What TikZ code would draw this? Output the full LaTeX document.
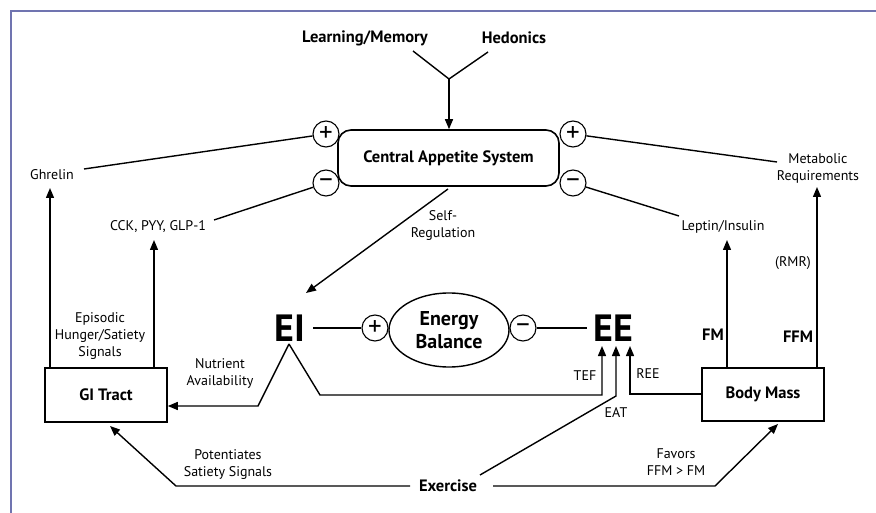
\documentclass[tikz,border=0pt]{standalone}
\usepackage{fontspec}
\setmainfont{PT Sans}
\usetikzlibrary{arrows.meta,shapes.geometric}
\definecolor{framecol}{RGB}{112,116,176}
\begin{document}
\begin{tikzpicture}[x=1pt,y=-1pt,
  line width=1.4pt,
  lbl/.style={font=\fontsize{14}{17}\selectfont, align=center, inner sep=0},
  blbl/.style={font=\bfseries\fontsize{16.5}{19}\selectfont, align=center, inner sep=0},
  big/.style={font=\bfseries\fontsize{38}{38}\selectfont, inner sep=0},
  sgn/.style={circle, draw, line width=1.1pt, minimum size=26pt, inner sep=0, font=\fontsize{27}{27}\selectfont},
  boxn/.style={draw, line width=1.6pt, inner sep=0, font=\bfseries\fontsize{16.5}{19}\selectfont},
  arr/.style={-{Triangle[length=10pt,width=8pt]}},
]
\useasboundingbox (0,0) rectangle (876,513);
\draw[color=framecol, line width=2.2pt] (11,513) -- (11,11) -- (876,11);

% top inputs
\node[blbl] (lm) at (365,38) {Learning/Memory};
\node[blbl] (hed) at (514,38) {Hedonics};
\coordinate (v1) at (413,51);
\coordinate (v2) at (488,52);
\coordinate (vx) at (449,79);
\node[boxn, rounded corners=13pt, minimum width=221pt, minimum height=56pt] (cas) at (448.5,158) {Central Appetite System};
\draw (v1) -- (vx) -- (v2);
\draw[arr] (vx) -- (vx |- cas.north);

% signs around central appetite
\node[sgn] (cp1) at (326,134) {+};
\node[sgn] (cm1) at (326,183) {–};
\node[sgn] (cp2) at (573,134) {+};
\node[sgn] (cm2) at (573,183) {–};

% left signals
\node[lbl] (ghr) at (52,175) {Ghrelin};
\coordinate (ghrl) at (84,169);
\draw (ghrl) -- (cp1);
\node[lbl] (cck) at (158,227) {CCK, PYY, GLP-1};
\coordinate (cckl) at (214,220);
\draw (cckl) -- (cm1);

% right signals
\node[lbl] (met) at (818,168) {Metabolic\\Requirements};
\coordinate (metl) at (777,162);
\draw (cp2) -- (metl);
\node[lbl] (lep) at (723,227) {Leptin/Insulin};
\coordinate (lepl) at (679,216);
\draw (cm2) -- (lepl);

% self regulation
\coordinate (srs) at (448,189);
\coordinate (sre) at (306,293);
\draw[arr] (srs) -- (sre);
\node[lbl] (srl) at (443,226) {Self-\\Regulation};

% energy balance row
\node[big] (ei) at (289.5,328) {EI};
\node[big] (ee) at (613,328) {EE};
\node[draw, ellipse, line width=1.4pt, minimum width=120pt, minimum height=74pt, inner sep=0,
      font=\bfseries\fontsize{20}{23}\selectfont, align=center] (eb) at (449,330) {Energy\\Balance};
\node[sgn] (pe) at (375,328) {+};
\node[sgn] (me) at (523,328) {–};
\coordinate (eil) at (313,328);
\coordinate (eel) at (587,328);
\draw (eil) -- (pe);
\draw (me) -- (eel);

% boxes
\node[boxn, minimum width=122pt, minimum height=54pt] (gi) at (106,395) {GI Tract};
\node[boxn, minimum width=122pt, minimum height=53pt] (bm) at (763,394.5) {Body Mass};

% GI tract outputs
\coordinate (gia) at (50,368);
\draw[arr] (gia) -- (50,188) coordinate (ghrt);
\coordinate (gib) at (154,368);
\draw[arr] (gib) -- (154,240) coordinate (cckt);
\node[lbl] (epi) at (100,336) {Episodic\\Hunger/Satiety\\Signals};

% nutrient availability
\coordinate (apex) at (289,344);
\coordinate (nk) at (258,406);
\draw[arr] (apex) -- (nk) -- (nk -| gi.east);
\node[lbl] (nut) at (220,373) {Nutrient\\Availability};

% TEF
\coordinate (tk1) at (320,395);
\coordinate (tk2) at (602,395);
\coordinate (tt) at (602,346);
\draw[arr] (apex) -- (tk1) -- (tk2) -- (tt);
\node[lbl] (tef) at (585,376) {TEF};

% Exercise
\node[blbl] (ex) at (448,486) {Exercise};
\coordinate (ek) at (616,396);
\coordinate (et) at (616,346);
\coordinate (es) at (480,475);
\draw[arr] (es) -- (ek) -- (et);
\node[lbl] (eat) at (616,413) {EAT};

% REE
\coordinate (rk) at (630,394);
\coordinate (rt) at (630,346);
\draw[arr] (bm.west |- rk) -- (rk) -- (rt);
\node[lbl] (ree) at (648,374) {REE};

% body mass outputs
\coordinate (fmb) at (727,368);
\coordinate (fmt) at (727,240);
\draw[arr] (fmb) -- (fmt);
\node[blbl] (fm) at (713,335) {FM};
\coordinate (ffb) at (817,368);
\coordinate (fft) at (817,187);
\draw[arr] (ffb) -- (fft);
\node[blbl] (ffm) at (798,337) {FFM};
\node[lbl] (rmr) at (793,263) {(RMR)};

% exercise arrows
\coordinate (xl1) at (410,486);
\coordinate (xl2) at (176,486);
\coordinate (xl3) at (110,426);
\draw[arr] (xl1) -- (xl2) -- (xl3);
\node[lbl] (pot) at (228,465) {Potentiates\\Satiety Signals};
\coordinate (xr1) at (493,486);
\coordinate (xr2) at (715,486);
\coordinate (xr3) at (778,424);
\draw[arr] (xr1) -- (xr2) -- (xr3);
\node[lbl] (fav) at (676,462) {Favors\\FFM > FM};
\end{tikzpicture}
\end{document}
